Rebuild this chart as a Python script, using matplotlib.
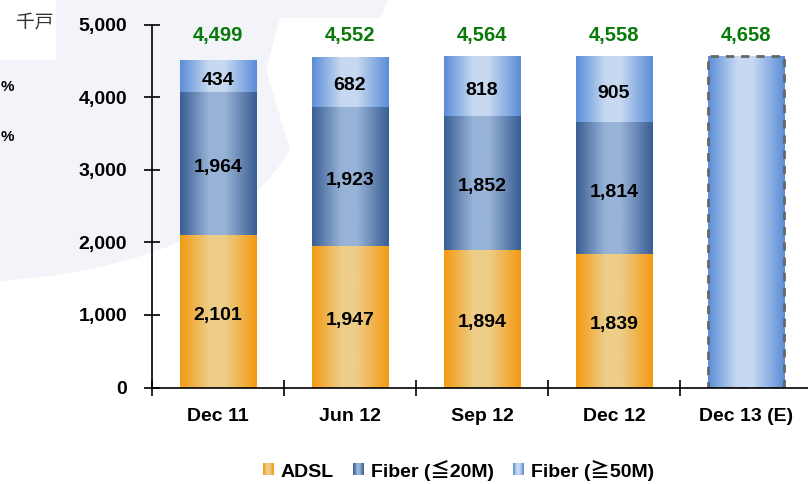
import matplotlib
matplotlib.use('Agg')
import matplotlib.pyplot as plt
import numpy as np
from matplotlib.colors import LinearSegmentedColormap
from matplotlib.patches import Rectangle, Polygon
from matplotlib.legend_handler import HandlerPatch
from matplotlib.font_manager import FontProperties

# ---------------- data ----------------
categories = ['Dec 11', 'Jun 12', 'Sep 12', 'Dec 12', 'Dec 13 (E)']
adsl = [2101, 1947, 1894, 1839]
fiber20 = [1964, 1923, 1852, 1814]
fiber50 = [434, 682, 818, 905]
totals = [4499, 4552, 4564, 4558, 4658]
estimate_bar = [4566]          # drawn height of the estimate bar
yticks = [0, 1000, 2000, 3000, 4000, 5000]
series_names = ['ADSL', 'Fiber (≦20M)', 'Fiber (≧50M)']
unit_label = '千戸'

# ---------------- styles ----------------
FAM = ['Liberation Sans', 'Noto Sans CJK JP', 'DejaVu Sans']
plt.rcParams['font.family'] = FAM

def grad_cmap(edge, center, name):
    return LinearSegmentedColormap.from_list(
        name, [(0.0, edge), (0.38, center), (0.58, center), (1.0, edge)])

cmaps = [grad_cmap('#F39A12', '#EDCD88', 'adsl'),
         grad_cmap('#395E93', '#98B3D7', 'f20'),
         grad_cmap('#5A8DD7', '#C7D9F1', 'f50')]

W, H = 808, 484
fig = plt.figure(figsize=(W / 100, H / 100), dpi=100)
fig.patch.set_facecolor('white')

def fp(x, y):
    return (x / W, 1 - y / H)

# decorative background swoosh
t = np.linspace(0, 1, 40)
p0, p1, p2 = np.array([290, 150]), np.array([220, 265]), np.array([0, 281])
curve = [((1 - s) ** 2) * p0 + 2 * (1 - s) * s * p1 + (s ** 2) * p2 for s in t]
pts = [(56, 0), (388, 0), (380, 18), (280, 18), (266, 70)] + [tuple(c) for c in curve] + [(0, 60), (56, 60)]
bg = Polygon([fp(x, y) for x, y in pts], closed=True, transform=fig.transFigure,
             facecolor='#F2F4F9', edgecolor='none', zorder=-5)
fig.patches.append(bg)

ax = fig.add_axes([152 / W, 1 - 387.5 / H, 660 / W, 363 / H])
ax.set_zorder(2)
ax.patch.set_alpha(0)

bar_w = 0.583
grad = np.linspace(0, 1, 256).reshape(1, -1)

def gradient_bar(x, bottom, height, cmap, **kw):
    rects = ax.bar(x, height, bottom=bottom, width=bar_w, color='none', edgecolor='none', zorder=2, **kw)
    r = rects[0]
    x0, y0 = r.get_x(), r.get_y()
    ax.imshow(grad, cmap=cmap, extent=(x0, x0 + r.get_width(), y0, y0 + r.get_height()),
              aspect='auto', interpolation='bilinear', zorder=1.5)
    return r

label_font = dict(fontsize=14, fontweight='bold', color='black', ha='center', va='center')

for i in range(len(adsl)):
    bottoms = [0, adsl[i], adsl[i] + fiber20[i]]
    vals = [adsl[i], fiber20[i], fiber50[i]]
    for k in range(3):
        gradient_bar(i, bottoms[k], vals[k], cmaps[k])
        ax.annotate(f'{vals[k]:,}', (i, bottoms[k] + vals[k] / 2), xytext=(0, -3),
                    textcoords='offset points', **label_font)

# estimate bar
ei = len(adsl)
gradient_bar(ei, 0, estimate_bar[0], cmaps[2])
ax.bar(ei, estimate_bar[0], width=bar_w, fill=False, edgecolor='#666666',
       linewidth=2, linestyle=(0, (3, 2.5)), zorder=3)

# totals
for i, tval in enumerate(totals):
    ax.text(i, 4850, f'{tval:,}', color='#0A7A0A', fontsize=14.5, fontweight='bold',
            ha='center', va='center')

ax.set_xlim(-0.5, 4.5)
ax.set_ylim(0, 5000)

for s in ['top', 'right']:
    ax.spines[s].set_visible(False)
for s in ['left', 'bottom']:
    ax.spines[s].set_linewidth(1.2)
    ax.spines[s].set_zorder(4)

ax.set_yticks(yticks)
ax.set_yticklabels([f'{v:,}' for v in yticks])
ax.tick_params(axis='y', direction='inout', length=12, width=1.2, pad=12, labelsize=14)
for lab in ax.get_yticklabels():
    lab.set_fontweight('bold')

ax.set_xticks(np.arange(-0.5, 5.0, 1.0))
ax.set_xticklabels([])
ax.tick_params(axis='x', which='major', direction='inout', length=12, width=1.2)
ax.set_xticks(np.arange(len(categories)), minor=True)
ax.set_xticklabels(categories, minor=True)
ax.tick_params(axis='x', which='minor', length=0, pad=15, labelsize=14)
for lab in ax.get_xticklabels(minor=True):
    lab.set_fontweight('bold')

# unit label and side texts at the left edge
fig.text(*fp(35, 23), unit_label, family=['Noto Sans CJK JP'], fontsize=13.5,
         color='#333333', ha='center', va='center')
for yy in (87, 137):
    fig.text(*fp(0.5, yy), '%', fontsize=11, fontweight='bold', ha='left', va='center')

# legend with gradient handles
class GradHandler(HandlerPatch):
    def __init__(self, cmap):
        super().__init__()
        self.cmap = cmap

    def create_artists(self, legend, orig_handle, xdescent, ydescent, width, height, fontsize, trans):
        n = 14
        arts = []
        for k in range(n):
            arts.append(Rectangle((-xdescent + width * k / n, -ydescent + height * 0.15),
                                  width / n * 1.1, height * 0.95,
                                  facecolor=self.cmap((k + 0.5) / n), edgecolor='none',
                                  transform=trans))
        return arts

handles = [Rectangle((0, 0), 1, 1) for _ in series_names]
hmap = {h: GradHandler(c) for h, c in zip(handles, cmaps)}
fig.legend(handles, series_names, loc='center', bbox_to_anchor=fp(458.5, 471), ncol=3,
           frameon=False, handler_map=hmap, handlelength=0.55, handleheight=0.6,
           handletextpad=0.35, columnspacing=1.0, borderaxespad=0,
           prop=FontProperties(family=FAM, weight='bold', size=14))

fig.savefig('out.png', dpi=100)
